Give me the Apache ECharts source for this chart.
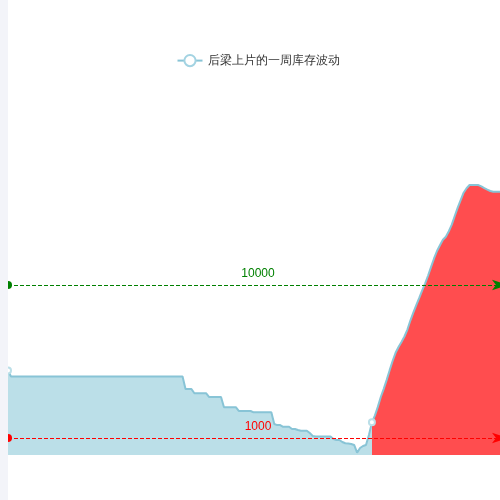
<!DOCTYPE html>
<html>
<head>
<meta charset="utf-8">
<script src="https://cdn.jsdelivr.net/npm/echarts@6/dist/echarts.min.js"></script>
<style>
  html, body { margin: 0; padding: 0; background: #fff; overflow: hidden; }
  #strip { position: absolute; left: 0; top: 0; width: 8px; height: 500px; background: #f3f4f9; }
  #main { position: absolute; left: 8px; top: 0; width: 500px; height: 500px; }
</style>
</head>
<body>
<div id="strip"></div>
<div id="main"></div>
<script>
// one week, hourly (plus the first two hours of the next Monday)
const days = ['周一', '周二', '周三', '周四', '周五', '周六', '周日'];
const hours = ['00', '01', '02', '03', '04', '05', '06', '07', '08', '09', '10', '11',
  '12', '13', '14', '15', '16', '17', '18', '19', '20', '21', '22', '23'];
const extraLabels = ['周一 00:00', '周一 01:00'];

// stock values
const stock = [
  4970, 4620, 4620, 4620, 4620, 4620, 4620, 4620, 4620, 4620,
  4620, 4620, 4620, 4620, 4620, 4620, 4620, 4620, 4620, 4620,
  4620, 4620, 4620, 4620, 4620, 4620, 4620, 4620, 4620, 4620,
  4620, 4620, 4620, 4620, 4620, 4620, 4620, 4620, 4620, 4620,
  4620, 4620, 4620, 4620, 4620, 4620, 4620, 4620, 4620, 4620,
  4620, 4620, 4620, 4620, 4620, 4620, 4620, 4620, 4620, 4620,
  3880, 3880, 3880, 3630, 3630, 3630, 3630, 3630, 3410, 3410,
  3410, 3410, 3410, 2810, 2810, 2810, 2810, 2810, 2590, 2590,
  2590, 2590, 2590, 2510, 2510, 2510, 2510, 2510, 2510, 2510,
  1820, 1760, 1760, 1660, 1660, 1660, 1530, 1530, 1470, 1430,
  1430, 1430, 1290, 1120, 1090, 1090, 1090, 1090, 1090, 1090,
  940, 880, 880, 765, 690, 680, 650, 590, 140, 410,
  530, 590, 1180, 1920, 2320, 2830, 3410, 3890, 4420, 4990,
  5530, 6010, 6350, 6650, 6970, 7380, 7910, 8380, 8820, 9240,
  9680, 10100, 10560, 11070, 11560, 12000, 12340, 12660, 12840, 13160,
  13550, 14060, 14550, 14990, 15430, 15690, 15880, 15880, 15880, 15880,
  15800, 15700, 15610, 15530, 15490, 15490, 15490, 15490, 15490, 15490
];

const seriesName = '后梁上片的一周库存波动';
const warnIdx = 123;          // from here on the area turns red
const markIdx = [0, warnIdx]; // points that keep their symbol
const upperLine = 10000;
const lowerLine = 1000;

const hourLabels = [];
days.forEach(d => hours.forEach(h => hourLabels.push(`${d} ${h}:00`)));
hourLabels.push(...extraLabels);

const chart = echarts.init(document.getElementById('main'));
chart.setOption({
  animation: false,
  legend: {
    top: 49,
    left: 'center',
    data: [seriesName],
    textStyle: { color: '#333', fontSize: 12 }
  },
  grid: { left: 0, right: 0, top: 115, bottom: 45 },
  xAxis: { type: 'category', boundaryGap: false, data: hourLabels, show: false },
  yAxis: { type: 'value', min: 0, max: 20000, show: false },
  visualMap: {
    show: false,
    type: 'piecewise',
    dimension: 0,
    seriesIndex: 0,
    pieces: [
      { gte: 0, lte: warnIdx, color: '#bbdfe8' },
      { gt: warnIdx, lte: stock.length - 1, color: '#ff4d4f' }
    ]
  },
  series: [{
    name: seriesName,
    type: 'line',
    symbol: 'emptyCircle',
    showAllSymbol: true,
    itemStyle: { color: '#a3d3e2' },
    lineStyle: { color: '#88c4d6', width: 2 },
    areaStyle: { opacity: 1 },
    data: stock.map((v, i) => markIdx.includes(i) ? v : { value: v, symbol: 'none' }),
    markLine: {
      silent: true,
      label: { position: 'middle' },
      data: [
        { yAxis: upperLine, lineStyle: { color: 'green', type: 'dashed', width: 1 }, label: { color: 'green' } },
        { yAxis: lowerLine, lineStyle: { color: 'red', type: 'dashed', width: 1 }, label: { color: 'red' } }
      ]
    }
  }]
});
</script>
</body>
</html>
